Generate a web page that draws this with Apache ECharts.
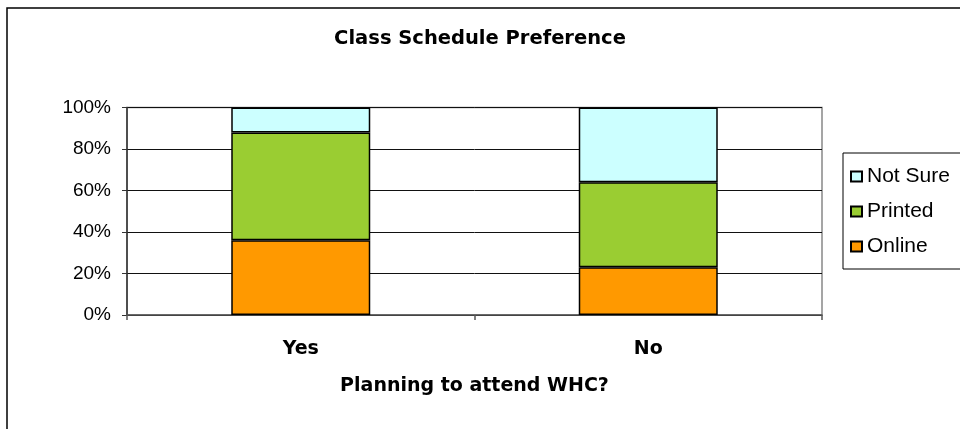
<!DOCTYPE html>
<html>
<head>
<meta charset="utf-8">
<script src="https://cdn.jsdelivr.net/npm/echarts@6/dist/echarts.min.js"></script>
<style>
  html, body { margin: 0; padding: 0; background: #fff; }
  #chart { width: 960px; height: 429px; }
</style>
</head>
<body>
<div id="chart"></div>
<script>
const categories = ['Yes', 'No']
const online = [36, 23]
const printed = [52, 41]
const notSure = [12, 36]
const yTicks = [0, 20, 40, 60, 80, 100]

const chart = echarts.init(document.getElementById('chart'))
const font = '"Liberation Sans", Arial, sans-serif'
const boldFont = '"DejaVu Sans", sans-serif'
const barBorder = { borderColor: '#000', borderWidth: 1.5 }

const option = {
  animation: false,
  backgroundColor: '#fff',
  textStyle: { fontFamily: font },
  graphic: [
    {
      type: 'rect',
      shape: { x: 7, y: 8, width: 1000, height: 1000 },
      style: { fill: 'none', stroke: '#000', lineWidth: 1.5 },
      silent: true
    }
  ],
  title: {
    text: 'Class Schedule Preference',
    left: 'center',
    top: 24,
    textStyle: { fontFamily: boldFont, fontSize: 19.5, fontWeight: 'bold', color: '#000' }
  },
  legend: {
    orient: 'vertical',
    left: 843,
    top: 153,
    data: ['Not Sure', 'Printed', 'Online'],
    borderColor: '#000',
    borderWidth: 1,
    padding: [13, 60, 12, 7],
    itemWidth: 11,
    itemHeight: 10,
    itemGap: 14,
    icon: 'rect',
    textStyle: { fontFamily: font, fontSize: 21, color: '#000' }
  },
  grid: {
    left: 127,
    right: 138,
    top: 107.5,
    bottom: 114,
    show: true,
    borderColor: '#888',
    borderWidth: 1.5
  },
  xAxis: {
    type: 'category',
    data: categories,
    axisLine: { lineStyle: { color: '#555', width: 1.5 } },
    axisTick: { show: true, length: 5, lineStyle: { color: '#555', width: 1.5 } },
    axisLabel: { margin: 25, fontFamily: boldFont, fontSize: 19, fontWeight: 'bold', color: '#000' },
    name: 'Planning to attend WHC?',
    nameLocation: 'middle',
    nameGap: 62,
    nameTextStyle: { fontFamily: boldFont, fontSize: 19, fontWeight: 'bold', color: '#000' }
  },
  yAxis: {
    type: 'value',
    min: yTicks[0],
    max: yTicks[yTicks.length - 1],
    interval: yTicks[1] - yTicks[0],
    axisLine: { show: true, lineStyle: { color: '#333', width: 1.5 } },
    axisTick: { show: true, length: 5, lineStyle: { color: '#333' } },
    axisLabel: { margin: 16, fontFamily: font, fontSize: 19, color: '#000', formatter: '{value}%' },
    splitLine: { lineStyle: { color: '#111', width: 1 } }
  },
  series: [
    {
      name: 'Online',
      type: 'bar',
      stack: 'total',
      barWidth: '40%',
      data: online,
      itemStyle: Object.assign({ color: '#FF9900' }, barBorder)
    },
    {
      name: 'Printed',
      type: 'bar',
      stack: 'total',
      data: printed,
      itemStyle: Object.assign({ color: '#9ACD32' }, barBorder)
    },
    {
      name: 'Not Sure',
      type: 'bar',
      stack: 'total',
      data: notSure,
      itemStyle: Object.assign({ color: '#CCFFFF' }, barBorder)
    }
  ]
}
chart.setOption(option)

window.addEventListener('resize', () => {
  chart.resize()
})
</script>
</body>
</html>
